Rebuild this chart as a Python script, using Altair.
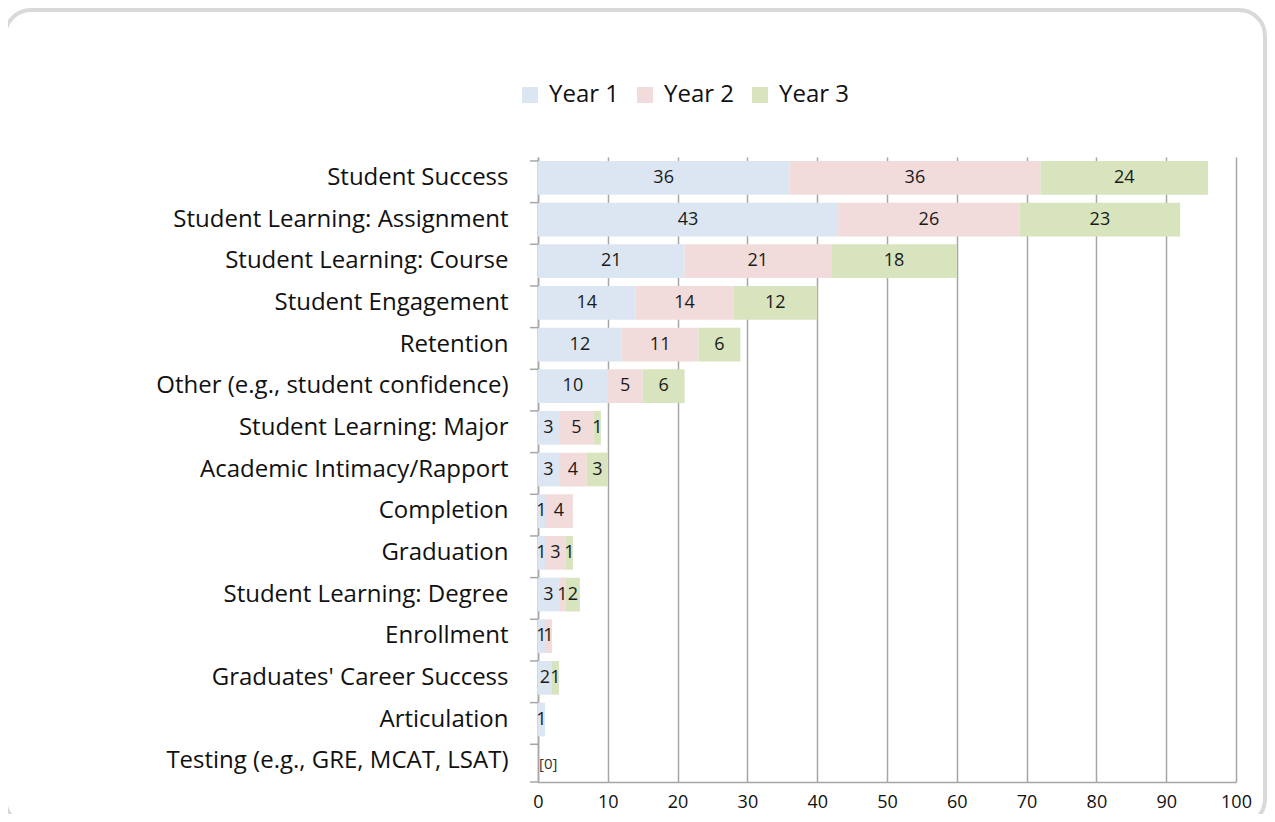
import altair as alt
import pandas as pd

categories = [
    "Student Success",
    "Student Learning: Assignment",
    "Student Learning: Course",
    "Student Engagement",
    "Retention",
    "Other (e.g., student confidence)",
    "Student Learning: Major",
    "Academic Intimacy/Rapport",
    "Completion",
    "Graduation",
    "Student Learning: Degree",
    "Enrollment",
    "Graduates' Career Success",
    "Articulation",
    "Testing (e.g., GRE, MCAT, LSAT)",
]
year1 = [36, 43, 21, 14, 12, 10, 3, 3, 1, 1, 3, 1, 2, 1, 0]
year2 = [36, 26, 21, 14, 11, 5, 5, 4, 4, 3, 1, 1, 0, 0, 0]
year3 = [24, 23, 18, 12, 6, 6, 1, 3, 0, 1, 2, 0, 1, 0, 0]
series = ["Year 1", "Year 2", "Year 3"]
colors = ["#dce6f2", "#f2dcdb", "#d7e4bd"]
x_ticks = [0, 10, 20, 30, 40, 50, 60, 70, 80, 90, 100]
zero_note_category = "Testing (e.g., GRE, MCAT, LSAT)"
zero_note_text = "[0]"

rows = []
for i, c in enumerate(categories):
    start = 0
    for s, vals in zip(series, [year1, year2, year3]):
        v = vals[i]
        rows.append({
            "cat": c, "year": s, "order": series.index(s), "value": v,
            "start": start, "end": start + v, "mid": start + v / 2,
            "label": str(v) if v > 0 else "",
        })
        start += v
df = pd.DataFrame(rows)
note_df = pd.DataFrame({"cat": [zero_note_category], "value": [0], "text": [zero_note_text]})
tick_df = pd.DataFrame({"cat": categories})

FONT = "Open Sans"
W, H = 698, 625

yscale = alt.Scale(domain=categories, paddingInner=0.19, paddingOuter=0.095)
xscale = alt.Scale(domain=[0, 100], nice=False)

bars = alt.Chart(df).mark_bar().encode(
    x=alt.X("start:Q", scale=xscale, axis=alt.Axis(
        values=x_ticks, title=None, grid=True, gridColor="#a6a6a6", gridWidth=1.5,
        domainColor="#a6a6a6", domainWidth=1.5, ticks=False, labelPadding=11,
        labelFlush=False, labelFontSize=18, labelFont=FONT, labelColor="#111111")),
    x2="end:Q",
    y=alt.Y("cat:N", scale=yscale, sort=categories, axis=alt.Axis(
        title=None, ticks=False, domainColor="#a6a6a6", domainWidth=1.5,
        labelPadding=30, labelFontSize=24, labelFont=FONT, labelColor="#111111",
        labelLimit=500)),
    color=alt.Color("year:N", scale=alt.Scale(domain=series, range=colors), legend=alt.Legend(
        title=None, orient="none", direction="horizontal", legendX=-20, legendY=-74,
        symbolType="square", symbolSize=256, symbolStrokeWidth=0, labelFontSize=24,
        labelFont=FONT, labelColor="#111111", labelOffset=7, columnPadding=14)),
    order=alt.Order("order:Q"),
)

labels = alt.Chart(df).mark_text(fontSize=18, font=FONT, color="#1a1a1a").encode(
    x=alt.X("mid:Q", scale=xscale),
    y=alt.Y("cat:N", scale=yscale, sort=categories),
    text="label:N",
)

note = alt.Chart(note_df).mark_text(fontSize=15, font=FONT, color="#333333", align="left", dx=1, dy=3).encode(
    x=alt.X("value:Q", scale=xscale),
    y=alt.Y("cat:N", scale=yscale, sort=categories),
    text="text:N",
)

yticks = alt.Chart(tick_df).mark_rule(color="#a6a6a6", strokeWidth=1.5).encode(
    y=alt.Y("cat:N", scale=yscale, sort=categories, bandPosition=0),
    x=alt.value(-8), x2=alt.value(0),
)
ybottom = alt.Chart(tick_df.head(1)).mark_rule(color="#a6a6a6", strokeWidth=1.5).encode(
    y=alt.value(H), x=alt.value(-8), x2=alt.value(0),
)

frame = alt.Chart(tick_df.head(1)).mark_rect(
    fill=None, filled=False, stroke="#d9d9d9", strokeWidth=4, cornerRadius=26
).encode(
    x=alt.value(-533), x2=alt.value(727), y=alt.value(-147), y2=alt.value(668),
)

chart = alt.layer(frame, bars, labels, note, yticks, ybottom).properties(
    width=W, height=H,
    autosize=alt.AutoSizeParams(type="none"),
    padding={"left": 530, "top": 149, "right": 31, "bottom": 32},
).configure_view(stroke=None)

chart.save("out.html", embed_options={"renderer": "svg", "actions": False})
